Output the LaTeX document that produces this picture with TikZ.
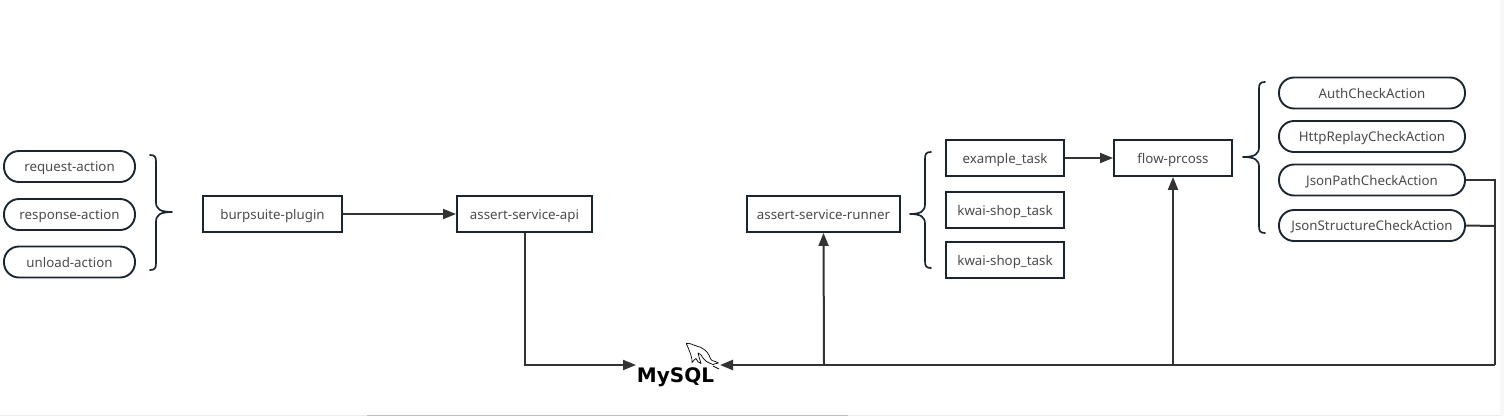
\documentclass[tikz,border=0pt]{standalone}
\usepackage{fontspec}
\setmainfont{Noto Sans}
\newfontfamily\logofont{DejaVu Sans}
\usetikzlibrary{arrows.meta}
\definecolor{edge}{HTML}{1B2530}
\definecolor{wire}{HTML}{333333}
\definecolor{label}{HTML}{4A4A4A}
\tikzset{
  x=1pt,y=-1pt,
  every node/.style={font=\fontsize{13.3}{15}\selectfont,text=label,inner sep=0pt,text height=11pt,text depth=0.6pt},
  boxnode/.style={draw=edge,line width=1.9pt,rectangle,minimum height=36pt},
  pill/.style={draw=edge,line width=1.9pt,rectangle,rounded corners=15pt,minimum height=31pt},
  wireline/.style={draw=wire,line width=2pt,rounded corners=0pt},
  tipped/.style={wireline,-{Triangle[length=13pt,width=10pt]}},
  bracket/.style={draw=edge,line width=1.7pt,line cap=round,line join=round}
}
\begin{document}
\begin{tikzpicture}
\useasboundingbox (0,0) rectangle (1504,416);
\fill[black!7] (0,414.5) rectangle (367,416);
\fill[black!25] (367,415) rectangle (848,416);
\fill[black!7] (848,414.5) rectangle (1504,416);
\fill[black!3] (1500,0) rectangle (1504,416);

\node[pill,minimum width=131pt] (req) at (69.5,166.5) {request-action};
\node[pill,minimum width=131pt] (resp) at (69.5,214.5) {response-action};
\node[pill,minimum width=131pt] (unl) at (69.5,262) {unload-action};

\node[boxnode,minimum width=139pt] (burp) at (272.5,214) {burpsuite-plugin};
\node[boxnode,minimum width=135pt] (api) at (524.5,214) {assert-service-api};
\node[boxnode,minimum width=153pt] (runner) at (823.5,214) {assert-service-runner};
\node[boxnode,minimum width=118pt] (ex) at (1005,158) {example\_task};
\node[boxnode,minimum width=118pt] (k1) at (1005,210) {kwai-shop\_task};
\node[boxnode,minimum width=118pt] (k2) at (1005,260) {kwai-shop\_task};
\node[boxnode,minimum width=118pt] (flow) at (1173,158) {flow-prcoss};

\node[pill,minimum width=186pt] (auth) at (1372,93) {AuthCheckAction};
\node[pill,minimum width=186pt] (http) at (1372,136.5) {HttpReplayCheckAction};
\node[pill,minimum width=186pt] (jp) at (1372,180) {JsonPathCheckAction};
\node[pill,minimum width=186pt] (js) at (1372,225.5) {JsonStructureCheckAction};

% braces
\draw[bracket] (150,155) .. controls (155,155) and (156,157) .. (156,162) -- (156,202)
  .. controls (156,209) and (160,212) .. (172,212)
  .. controls (160,212) and (156,215) .. (156,222) -- (156,263)
  .. controls (156,268) and (155,270) .. (150,270);
\draw[bracket] (931,152) .. controls (926,152) and (925,154) .. (925,159) -- (925,204)
  .. controls (925,211) and (921,214) .. (910,214)
  .. controls (921,214) and (925,217) .. (925,224) -- (925,261)
  .. controls (925,266) and (926,268) .. (931,268);
\draw[bracket] (1265,82) .. controls (1260,82) and (1259,84) .. (1259,89) -- (1259,147)
  .. controls (1259,154) and (1255,157) .. (1243,157)
  .. controls (1255,157) and (1259,160) .. (1259,167) -- (1259,226)
  .. controls (1259,231) and (1260,233) .. (1265,233);

% MySQL logo
\node[font=\logofont\bfseries\fontsize{20}{22}\selectfont,text=black,text height=15pt,text depth=4pt] (mysql) at (675.5,376.5) {MySQL};
\coordinate (dbl) at (636,365);
\coordinate (dbr) at (720,365);
\coordinate (mainr) at (1495,365);
\coordinate (upa) at (824,365);
\coordinate (upb) at (1173,365);
\coordinate (jpc) at (1495,180);
\coordinate (jsc) at (1495,226);
\draw[black,line width=0.7pt,line join=round]
  (686.3,343.5) .. controls (689,342.5) and (693,345) .. (696.5,346)
  .. controls (702,347) and (707,351) .. (709,355)
  .. controls (710,358) and (711,360) .. (712,360.5)
  .. controls (714,361) and (717,362) .. (718.5,363)
  .. controls (716,363.5) and (714,364) .. (713,364.5)
  .. controls (709,363) and (706,362) .. (703,358)
  .. controls (702,355) and (700,354) .. (698,353)
  .. controls (699,357) and (700,360) .. (701,363.5)
  .. controls (698.5,363) and (697,361) .. (696,358.5)
  .. controls (695,359.5) and (693.5,360) .. (692,362.5)
  .. controls (692.5,358) and (690,352) .. (686.3,343.5) -- cycle;
\draw[black,line width=0.7pt] (713,366) -- (719,369);

% connectors
\draw[tipped] (burp.east) -- (api.west);
\draw[tipped] (api.south) |- (dbl);
\draw[tipped] (ex.east) -- (flow.west);
\draw[wireline] (jp.east) -- (jpc) -- (mainr);
\draw[wireline] (js.east) -- (jsc);
\draw[tipped,line width=2.5pt,-{Triangle[length=13pt,width=10pt]}] (mainr) -- (dbr);
\draw[tipped] (upa) -- (runner.south);
\draw[tipped] (upb) -- (flow.south);
\end{tikzpicture}
\end{document}
